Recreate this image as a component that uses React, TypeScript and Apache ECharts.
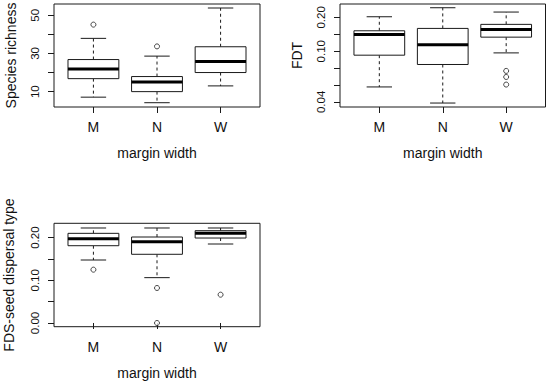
import React, { useEffect, useRef } from 'react';
import * as echarts from 'echarts';

// ---- Data ----
const categories = ['M', 'N', 'W'];
const catPositions = [1, 2, 3];

// [min whisker, Q1, median, Q3, max whisker]
const richnessStats = [
  [7.1, 16.8, 21.9, 26.8, 37.9],
  [4.2, 10.0, 15.1, 17.9, 28.6],
  [13.0, 20.0, 25.8, 33.5, 53.8],
];
const richnessOutliers = [
  [1, 45.1],
  [2, 33.7],
];
const richnessTicks = [10, 20, 30, 40, 50];
const richnessLabels = [10, 30, 50];

const fdtStats = [
  [0.0481, 0.0922, 0.141, 0.152, 0.2025],
  [0.0346, 0.0762, 0.1139, 0.1595, 0.2436],
  [0.0966, 0.1334, 0.1563, 0.1733, 0.223],
];
const fdtOutliers = [
  [3, 0.0668],
  [3, 0.059],
  [3, 0.0505],
];
const fdtTicks = [0.2, 0.1414, 0.1, 0.0707, 0.05, 0.0354];
const fdtLabels = [0.2, 0.1, 0.0354];

const fdsStats = [
  [0.1475, 0.181, 0.1975, 0.21, 0.2225],
  [0.1062, 0.1609, 0.1905, 0.2014, 0.2225],
  [0.185, 0.199, 0.21, 0.2162, 0.2225],
];
const fdsOutliers = [
  [1, 0.1249],
  [2, 0.082],
  [2, 0.0],
  [3, 0.0663],
];
const fdsTicks = [0, 0.05, 0.1, 0.15, 0.2];
const fdsLabels = [0, 0.1, 0.2];

const FONT = 'Liberation Sans, Arial, sans-serif';
const LINE = '#1a1a1a';

const ident = (v: number) => v;
const lg = (v: number) => Math.log10(v);

function boxSeries(idx: number, stats: number[][], tf: (v: number) => number) {
  return {
    type: 'custom',
    xAxisIndex: idx,
    yAxisIndex: idx,
    data: stats.map((s, i) => [catPositions[i], ...s.map(tf)]),
    encode: { x: 0, y: [1, 2, 3, 4, 5] },
    renderItem: (params: any, api: any) => {
      const x = api.value(0);
      const mn = api.coord([x, api.value(1)]);
      const q1 = api.coord([x, api.value(2)]);
      const md = api.coord([x, api.value(3)]);
      const q3 = api.coord([x, api.value(4)]);
      const mx = api.coord([x, api.value(5)]);
      const half = api.size([0.8, 0])[0] / 2;
      const sh = half / 2;
      const cx = mn[0];
      const thin = { stroke: LINE, lineWidth: 1 };
      return {
        type: 'group',
        children: [
          { type: 'line', shape: { x1: cx, y1: q3[1], x2: cx, y2: mx[1] }, style: { ...thin, lineDash: [3, 3] } },
          { type: 'line', shape: { x1: cx, y1: q1[1], x2: cx, y2: mn[1] }, style: { ...thin, lineDash: [3, 3] } },
          { type: 'line', shape: { x1: cx - sh, y1: mx[1], x2: cx + sh, y2: mx[1] }, style: thin },
          { type: 'line', shape: { x1: cx - sh, y1: mn[1], x2: cx + sh, y2: mn[1] }, style: thin },
          {
            type: 'rect',
            shape: { x: cx - half, y: q3[1], width: half * 2, height: q1[1] - q3[1] },
            style: { fill: '#fff', stroke: LINE, lineWidth: 1 },
          },
          { type: 'line', shape: { x1: cx - half, y1: md[1], x2: cx + half, y2: md[1] }, style: { stroke: '#000', lineWidth: 3 } },
        ],
      };
    },
  };
}

function outlierSeries(idx: number, pts: number[][], tf: (v: number) => number) {
  return {
    type: 'scatter',
    xAxisIndex: idx,
    yAxisIndex: idx,
    symbol: 'circle',
    symbolSize: 5,
    itemStyle: { color: '#fff', borderColor: LINE, borderWidth: 1 },
    data: pts.map((p) => [p[0], tf(p[1])]),
    z: 5,
  };
}

function xAxis(idx: number) {
  return {
    type: 'value',
    gridIndex: idx,
    min: 0.38,
    max: 3.62,
    name: 'margin width',
    nameLocation: 'middle',
    nameGap: 39,
    nameTextStyle: { fontFamily: FONT, fontSize: 14, color: '#111' },
    axisLine: { show: false },
    splitLine: { show: false },
    axisTick: { show: true, length: 6, customValues: catPositions, lineStyle: { color: LINE } },
    axisLabel: {
      customValues: catPositions,
      formatter: (v: number) => categories[Math.round(v) - 1] ?? '',
      margin: 13,
      fontFamily: FONT,
      fontSize: 14,
      color: '#111',
    },
  };
}

function yAxis(idx: number, name: string, min: number, max: number, ticks: number[], labels: number[], fmt: (v: number) => string, nameGap: number, margin: number) {
  return {
    type: 'value',
    gridIndex: idx,
    min,
    max,
    name,
    nameLocation: 'middle',
    nameRotate: 90,
    nameGap,
    nameTextStyle: { fontFamily: FONT, fontSize: 14, color: '#111' },
    axisLine: { show: false },
    splitLine: { show: false },
    axisTick: { show: true, length: 6, customValues: ticks, lineStyle: { color: LINE } },
    axisLabel: {
      customValues: labels,
      formatter: fmt,
      rotate: 90,
      margin,
      fontFamily: FONT,
      fontSize: 11.5,
      color: '#111',
    },
  };
}

export default function App() {
  const ref = useRef<HTMLDivElement>(null);
  useEffect(() => {
    if (!ref.current) return;
    const chart = echarts.init(ref.current, undefined, { renderer: 'svg' });
    const gridStyle = { show: true, borderColor: LINE, borderWidth: 1, backgroundColor: 'transparent', containLabel: false };
    chart.setOption({
      animation: false,
      backgroundColor: '#fff',
      grid: [
        { ...gridStyle, left: 54, top: 4, width: 206, height: 103 },
        { ...gridStyle, left: 340, top: 4, width: 205.5, height: 103 },
        { ...gridStyle, left: 54, top: 223.3, width: 206, height: 103.4 },
      ],
      xAxis: [xAxis(0), xAxis(1), xAxis(2)],
      yAxis: [
        yAxis(0, 'Species richness', 1.95, 55.9, richnessTicks, richnessLabels, (v) => String(Math.round(v)), 36, 13),
        yAxis(1, 'FDT', lg(0.0319), lg(0.263), fdtTicks.map(lg), fdtLabels.map(lg), (v) => Math.pow(10, v).toFixed(2), 36, 13),
        yAxis(2, 'FDS-seed dispersal type', -0.0087, 0.2335, fdsTicks, fdsLabels, (v) => v.toFixed(2), 38, 13),
      ],
      series: [
        boxSeries(0, richnessStats, ident),
        outlierSeries(0, richnessOutliers, ident),
        boxSeries(1, fdtStats, lg),
        outlierSeries(1, fdtOutliers, lg),
        boxSeries(2, fdsStats, ident),
        outlierSeries(2, fdsOutliers, ident),
      ],
    });
    return () => chart.dispose();
  }, []);
  return <div ref={ref} style={{ position: 'absolute', left: 0, top: 0, width: 550, height: 383 }} />;
}
